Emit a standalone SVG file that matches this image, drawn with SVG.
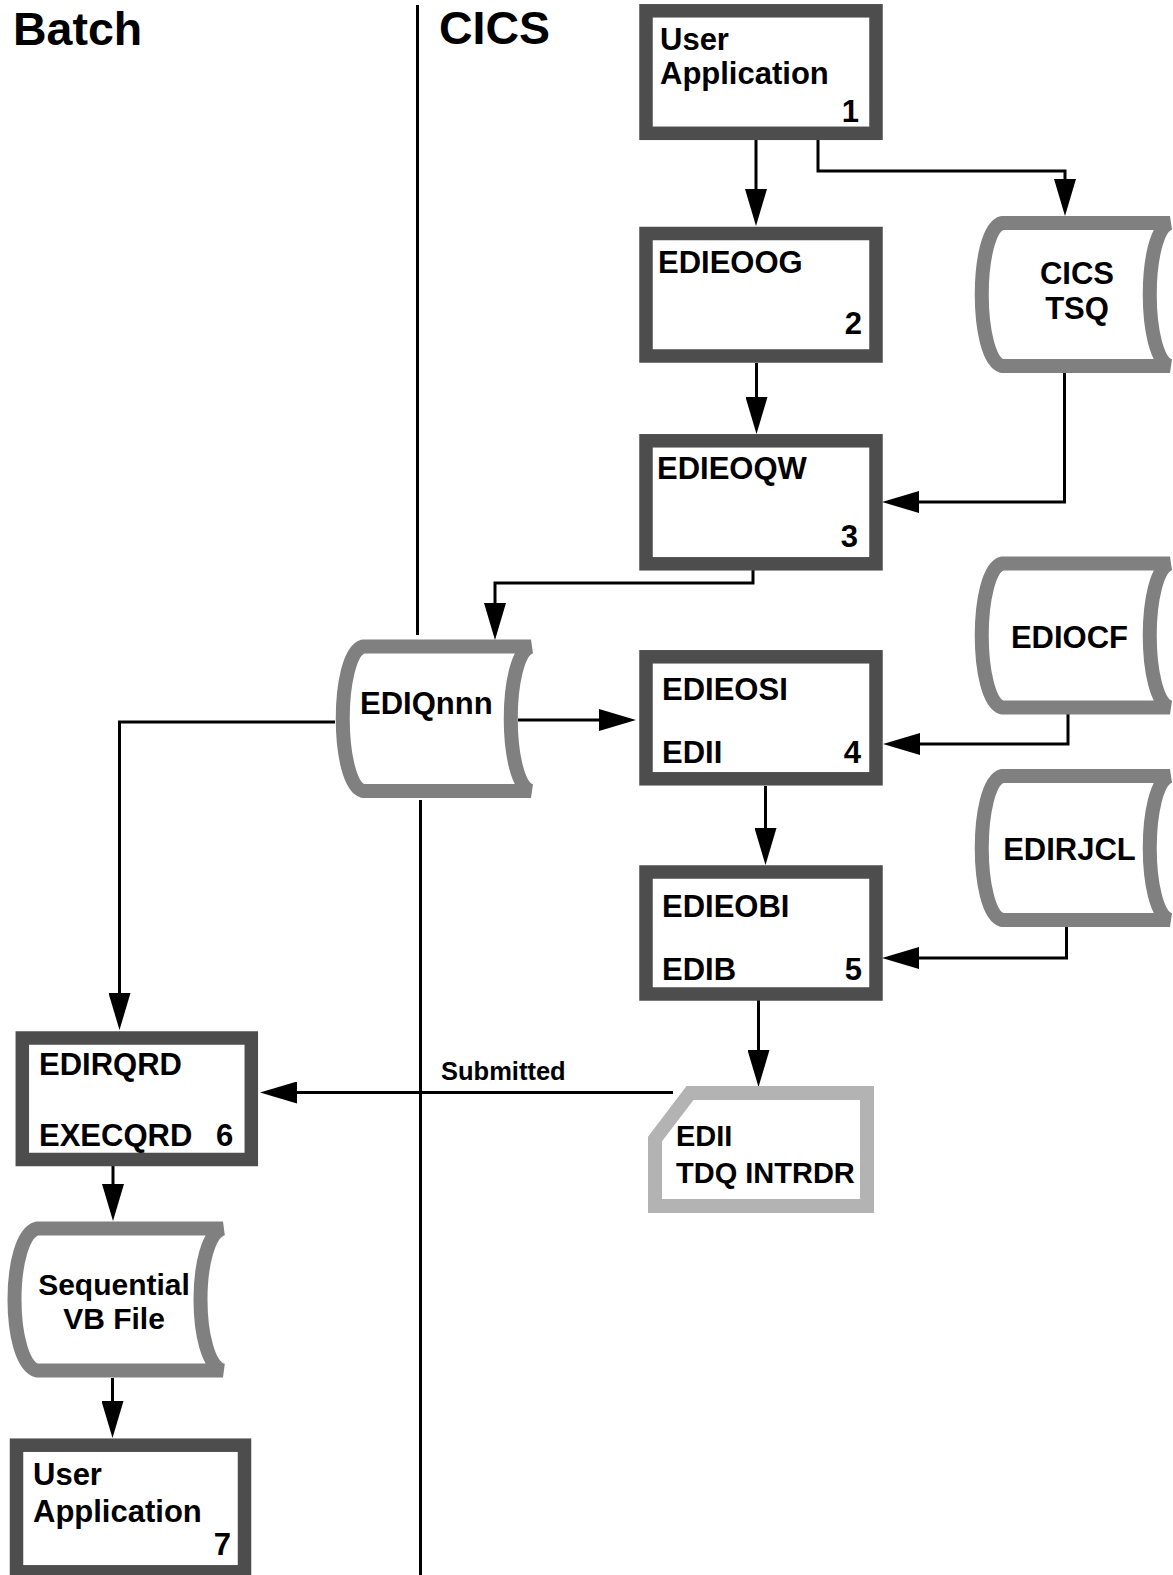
<svg xmlns="http://www.w3.org/2000/svg" width="1173" height="1575" viewBox="0 0 1173 1575">
<style>
  text { font-family: "Liberation Sans", Arial, sans-serif; font-weight: bold; fill: #000; }
  .t { font-size: 31px; }
  .title { font-size: 46.5px; }
  .small { font-size: 29px; }
  .lbl { font-size: 25.5px; }
  .mid { text-anchor: middle; }
  .end { text-anchor: end; }
  .box { fill: #fff; stroke: #4d4d4d; stroke-width: 13.5; }
  .ds { fill: #fff; stroke: #808080; stroke-width: 14; stroke-linejoin: bevel; }
  .tdq { fill: #fff; stroke: #b3b3b3; stroke-width: 14; stroke-linejoin: miter; }
  .conn path { fill: none; stroke: #000; stroke-width: 3; }
  .div { stroke: #000; stroke-width: 3; }
</style>
<defs>
  <marker id="ah" markerUnits="userSpaceOnUse" markerWidth="37" markerHeight="22" refX="29" refY="11" orient="auto">
    <path d="M0,0 L37,11 L0,22 Z" fill="#000"/>
  </marker>
</defs>
<rect width="1173" height="1575" fill="#fff"/>

<g id="titles">
  <text class="title" x="13" y="45">Batch</text>
  <text class="title" x="439" y="44">CICS</text>
</g>

<g id="dividers">
  <line class="div" x1="417.5" y1="5" x2="417.5" y2="635"/>
  <line class="div" x1="420.5" y1="800" x2="420.5" y2="1575"/>
</g>

<g id="connectors" class="conn">
  <path d="M756 140 V218" marker-end="url(#ah)"/>
  <path d="M818 137 V171 H1065 V208" marker-end="url(#ah)"/>
  <path d="M756.5 363 V426" marker-end="url(#ah)"/>
  <path d="M1064.5 373 V502 H890" marker-end="url(#ah)"/>
  <path d="M753 570 V583 H495 V632" marker-end="url(#ah)"/>
  <path d="M518 720 H628" marker-end="url(#ah)"/>
  <path d="M1068 714 V744 H891" marker-end="url(#ah)"/>
  <path d="M765.5 786 V857" marker-end="url(#ah)"/>
  <path d="M1066.5 926 V958 H890" marker-end="url(#ah)"/>
  <path d="M758.5 1000 V1079" marker-end="url(#ah)"/>
  <path d="M673 1092.5 H268" marker-end="url(#ah)"/>
  <path d="M335 722 H119.5 V1022" marker-end="url(#ah)"/>
  <path d="M113 1166 V1213" marker-end="url(#ah)"/>
  <path d="M112.5 1378 V1430" marker-end="url(#ah)"/>
  <text class="lbl" x="441" y="1080">Submitted</text>
</g>

<g id="n1">
  <rect class="box" x="646" y="10.8" width="230" height="122.5"/>
  <text class="t" x="660" y="50">User</text>
  <text class="t" x="660" y="83.5">Application</text>
  <text class="t end" x="859" y="122">1</text>
</g>

<g id="n2">
  <rect class="box" x="646" y="233.5" width="230" height="122.5"/>
  <text class="t" x="658" y="273">EDIEOOG</text>
  <text class="t end" x="862" y="334">2</text>
</g>

<g id="n3">
  <rect class="box" x="646" y="440.8" width="230" height="123"/>
  <text class="t" x="657" y="479">EDIEOQW</text>
  <text class="t end" x="858" y="547">3</text>
</g>

<g id="n4">
  <rect class="box" x="646" y="656.8" width="230" height="122"/>
  <text class="t" x="662" y="700">EDIEOSI</text>
  <text class="t" x="662" y="763">EDII</text>
  <text class="t end" x="861" y="763">4</text>
</g>

<g id="n5">
  <rect class="box" x="646" y="872" width="230" height="122"/>
  <text class="t" x="662" y="917">EDIEOBI</text>
  <text class="t" x="662" y="980">EDIB</text>
  <text class="t end" x="862" y="980">5</text>
</g>

<g id="n6">
  <rect class="box" x="22.3" y="1038" width="229" height="121.5"/>
  <text class="t" x="39" y="1075">EDIRQRD</text>
  <text class="t" x="39" y="1146">EXECQRD</text>
  <text class="t" x="216" y="1146">6</text>
</g>

<g id="n7">
  <rect class="box" x="16.5" y="1445.2" width="228" height="126.6"/>
  <text class="t" x="33" y="1484.5">User</text>
  <text class="t" x="33" y="1522">Application</text>
  <text class="t end" x="231" y="1554.5">7</text>
</g>

<g id="tdq">
  <path class="tdq" d="M690 1093 L867 1093 L867 1206 L655 1206 L655 1139 Z"/>
  <text class="small" x="676" y="1146">EDII</text>
  <text class="small" x="676" y="1183">TDQ INTRDR</text>
</g>

<g id="cicstsq">
  <path class="ds" d="M1002 223 L1170 223 C1143 231 1143 358 1170 366 L1002 366 C975 358 975 231 1002 223 Z"/>
  <text class="t mid" x="1077" y="284">CICS</text>
  <text class="t mid" x="1077" y="319">TSQ</text>
</g>

<g id="ediocf">
  <path class="ds" d="M1002 563.5 L1170 563.5 C1143 571.5 1143 699.5 1170 707.5 L1002 707.5 C975 699.5 975 571.5 1002 563.5 Z"/>
  <text class="t mid" x="1069.5" y="648">EDIOCF</text>
</g>

<g id="edirjcl">
  <path class="ds" d="M1002 776 L1170 776 C1143 784 1143 912 1170 920 L1002 920 C975 912 975 784 1002 776 Z"/>
  <text class="t mid" x="1069.5" y="860">EDIRJCL</text>
</g>

<g id="ediqnnn">
  <path class="ds" d="M363 646.5 L531 646.5 C504 654.5 504 783 531 791 L363 791 C336 783 336 654.5 363 646.5 Z"/>
  <text class="t" x="360" y="714">EDIQnnn</text>
</g>

<g id="seqvb">
  <path class="ds" d="M37 1228.5 L223 1228.5 C193 1236.5 193 1362.5 223 1370.5 L37 1370.5 C7 1362.5 7 1236.5 37 1228.5 Z"/>
  <text class="t mid" x="114" y="1295" style="font-size:30px">Sequential</text>
  <text class="t mid" x="114" y="1329" style="font-size:30px">VB File</text>
</g>
</svg>
